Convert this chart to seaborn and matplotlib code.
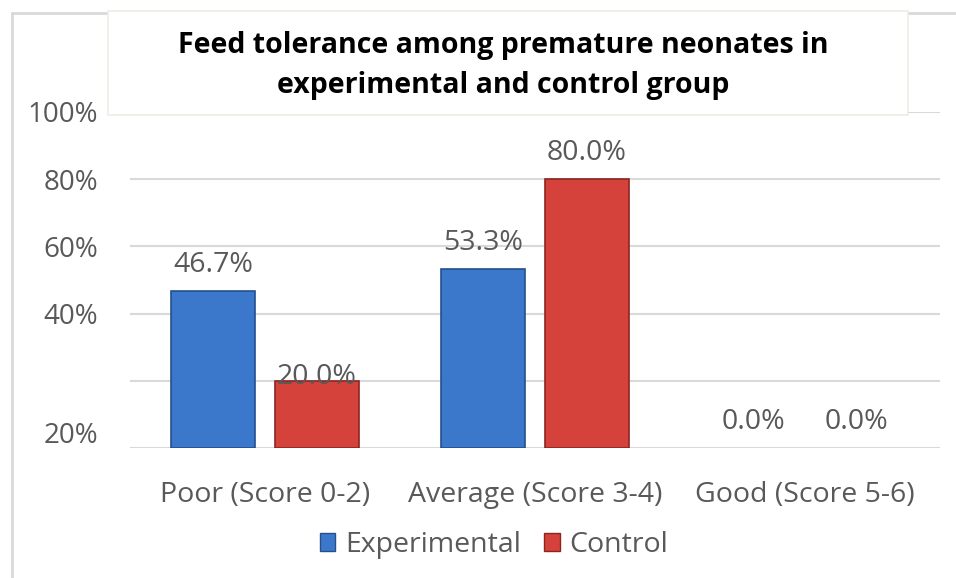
import matplotlib.pyplot as plt
import matplotlib.patches as mpatches
from matplotlib.lines import Line2D
import seaborn as sns
import pandas as pd

categories = ['Poor (Score 0-2)', 'Average (Score 3-4)', 'Good (Score 5-6)']
experimental = [0.467, 0.533, 0.0]
control = [0.200, 0.800, 0.0]
groups = ['Experimental', 'Control']

# gridlines every 20%, but the axis labels as printed in the original
grid_values = [0.0, 0.2, 0.4, 0.6, 0.8, 1.0]
tick_values = [0.045, 0.4, 0.6, 0.8, 1.0]
tick_labels = ['20%', '40%', '60%', '80%', '100%']

title = 'Feed tolerance among premature neonates in\nexperimental and control group'

df = pd.DataFrame({
    'category': categories * 2,
    'group': [groups[0]] * 3 + [groups[1]] * 3,
    'value': experimental + control,
})

sns.set_style('white')
plt.rcParams['font.family'] = ['Open Sans', 'DejaVu Sans']
text_color = '#595959'
colors = {'Experimental': '#3B78CC', 'Control': '#D4423B'}
edges = {'Experimental': '#24508C', 'Control': '#8E2420'}

fig = plt.figure(figsize=(9.56, 5.78), dpi=100)
ax = fig.add_axes([130 / 956, 1 - 448 / 578, 810 / 956, 336 / 578])

sns.barplot(data=df, x='category', y='value', hue='group', palette=colors,
            saturation=1, width=0.767, gap=0.19, ax=ax, legend=False, zorder=3)

for patch, grp in zip(ax.patches, [g for g in groups for _ in categories]):
    patch.set_edgecolor(edges[grp])
    patch.set_linewidth(1.2 if patch.get_height() > 0 else 0)

for y in grid_values:
    ax.axhline(y, color='#D9D9D9', linewidth=1.5, zorder=1)

ax.set_ylim(0, 1.0)
ax.set_xlim(-0.5, 2.5)
ax.set_yticks(tick_values)
ax.set_yticklabels(tick_labels)
ax.tick_params(axis='both', length=0, labelsize=20, labelcolor=text_color)
ax.tick_params(axis='x', pad=24, labelsize=20.5)
ax.tick_params(axis='y', pad=23)
ax.set_xlabel('')
ax.set_ylabel('')
sns.despine(ax=ax, left=True, bottom=True)

# data labels, the 20.0% one sits low on its bar as in the original
label_offsets = {(0, 'Control'): 3}
for container, grp in zip(ax.containers, groups):
    for i, bar in enumerate(container):
        h = bar.get_height()
        off = label_offsets.get((i, grp), 19)
        ax.annotate(f'{h * 100:.1f}%', (bar.get_x() + bar.get_width() / 2, h),
                    xytext=(0, off), textcoords='offset points',
                    ha='center', va='center', fontsize=20.5, color=text_color,
                    zorder=4)

# chart frame (left and top edges visible)
fig.add_artist(Line2D([12 / 956, 12 / 956], [0, 1 - 13 / 578],
                      color='#D9D9D9', linewidth=2))
fig.add_artist(Line2D([12 / 956, 1], [1 - 13 / 578, 1 - 13 / 578],
                      color='#D9D9D9', linewidth=2))

# white title box
fig.add_artist(mpatches.Rectangle((108 / 956, 1 - 115 / 578), 800 / 956, 104 / 578,
                                  transform=fig.transFigure, facecolor='white',
                                  edgecolor='#EEEEE8', linewidth=1.2, zorder=5))
fig.text(503 / 956, 1 - 66 / 578, title, ha='center', va='center',
         fontsize=20.5, fontweight='bold', color='black', linespacing=1.5,
         zorder=6)

handles = [mpatches.Patch(facecolor=colors[g], edgecolor=edges[g], label=g)
           for g in groups]
fig.legend(handles=handles, loc='center', bbox_to_anchor=(494 / 956, 1 - 545 / 578),
           ncol=2, frameon=False, fontsize=20.5, labelcolor=text_color,
           handlelength=0.55, handleheight=0.55, handletextpad=0.35,
           columnspacing=0.8)

fig.savefig('out.png', dpi=100)
